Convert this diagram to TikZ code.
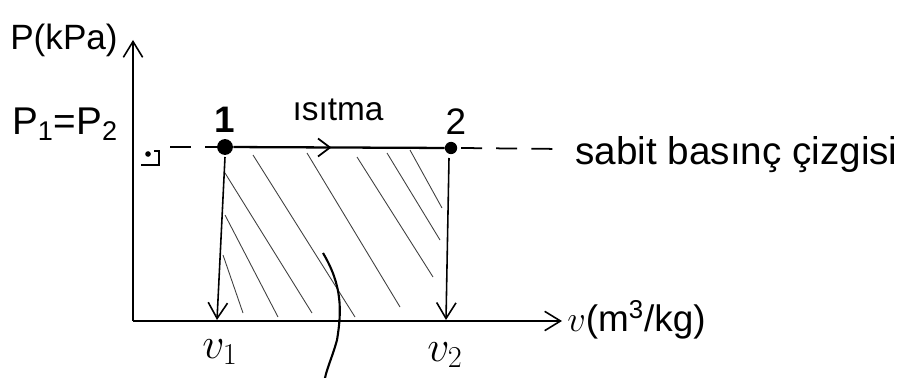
\documentclass[tikz,border=0pt]{standalone}
\usepackage{fontspec}
\setmainfont{Liberation Sans}
\usetikzlibrary{arrows.meta}
\tikzset{
  lbl/.style={inner sep=0pt, font=\fontsize{21}{24}\selectfont},
  ax/.style={line width=1.1pt, -{Straight Barb[length=9pt,width=11pt,line width=0.9pt]}},
  drop/.style={line width=0.9pt, -{Straight Barb[length=9pt,width=11pt,line width=0.9pt]}},
  hatch/.style={line width=0.5pt, black!75},
  dsh/.style={line width=1pt, dash pattern=on 12pt off 8pt},
  pt/.style={circle, fill=black, inner sep=0pt}
}
\begin{document}
\begin{tikzpicture}[x=0.02cm,y=-0.02cm]
\useasboundingbox (0,0) rectangle (898,378);
% axes
\coordinate (O) at (133,321);
\coordinate (ytop) at (133,40);
\coordinate (xend) at (562,321);
\draw[ax] (O) -- (ytop);
\draw[ax] (O) -- (xend);
% states
\node[pt, minimum size=9pt] (s1) at (225,147) {};
\node[pt, minimum size=7pt] (s2) at (451,148) {};
\coordinate (b1) at (217,320);
\coordinate (b2) at (446,320);
% hatch
\foreach \a/\b/\c/\d in {225/173/312/313, 253/155/355/317, 225/215/278/317, 223/255/243/313,
  307/153/400/307, 357/157/433/277, 387/153/440/240, 410/150/442/208}
  \draw[hatch] (\a,\b) -- (\c,\d);
% process line with mid arrow
\coordinate (mid) at (330,147.5);
\draw[line width=1.3pt] (s1) -- (s2);
\draw[line width=1pt] (mid) ++(-12,-9) -- (mid) -- ++(-12,9);
% drops
\draw[drop] (225,157) -- (b1);
\draw[drop] (449,158) -- (b2);
% dashed lines
\coordinate (dl) at (170,147);
\coordinate (dr) at (562,149);
\draw[dsh] (dl) -- (s1);
\draw[dsh] (s2) ++(10,0) -- (dr);
% right angle mark
\draw[line width=0.9pt] (141,165) -- (159,165) -- (159,151) -- (154,151);
\fill (148,154) circle (1.6pt);
% leader
\coordinate (l0) at (323,253);
\coordinate (l1) at (337,340);
\coordinate (l2) at (325,378);
\draw[line width=1.2pt] (l0) .. controls (342,285) and (342,310) .. (l1) .. controls (333,355) and (327,368) .. (l2);
% labels
\node[lbl, font=\fontsize{20}{24}\selectfont] (py) at (64,40) {P(kPa)};
\node[lbl, font=\fontsize{22}{26}\selectfont] (pp) at (65,124) {P\textsubscript{1}=P\textsubscript{2}};
\node[lbl] (n1) at (225,120) {\textbf{1}};
\node[lbl] (n2) at (456,122) {2};
\node[lbl, font=\fontsize{19}{22}\selectfont] (heat) at (338,110) {ısıtma};
\node[lbl, font=\fontsize{22}{26}\selectfont, anchor=west] (cl) at (575,155) {sabit basınç çizgisi};
\node[lbl, anchor=west] (vx) at (567,320) {$v$(m\textsuperscript{3}/kg)};
\node[lbl, font=\fontsize{23}{26}\selectfont] (v1) at (220,352) {$v_1$};
\node[lbl, font=\fontsize{23}{26}\selectfont] (v2) at (445,355) {$v_2$};
\end{tikzpicture}
\end{document}
